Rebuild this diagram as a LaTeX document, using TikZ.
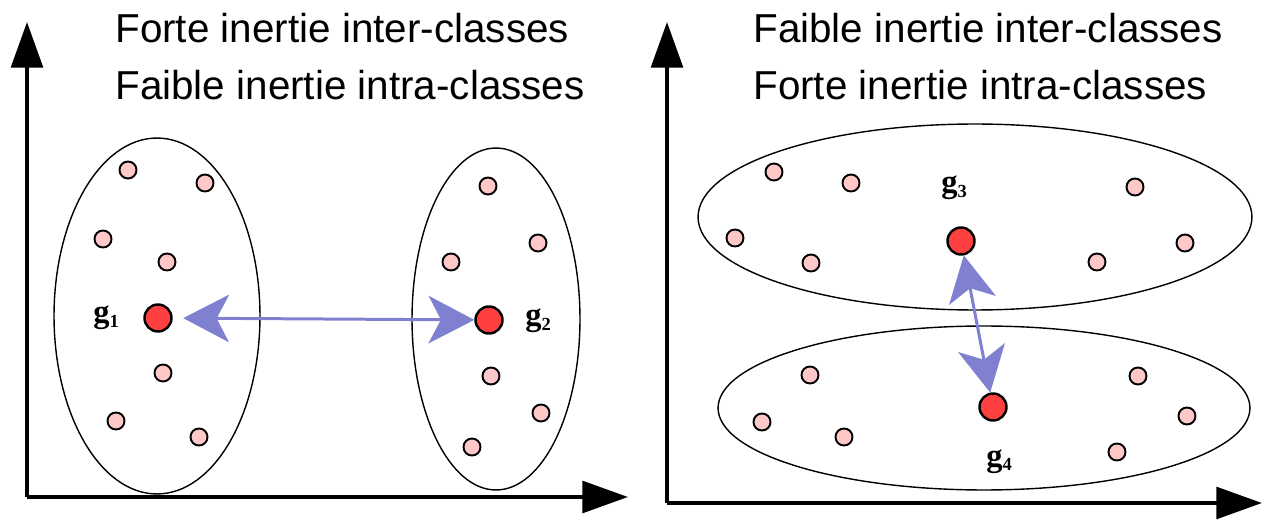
\documentclass[tikz,border=0pt]{standalone}
\usepackage{fontspec}
\setmainfont{Liberation Serif}
\setsansfont{Liberation Sans}
\usetikzlibrary{arrows.meta}
\definecolor{ptpink}{HTML}{FFC8C8}
\definecolor{ctrred}{HTML}{FF4040}
\definecolor{arrblue}{HTML}{8080D0}
\newcommand{\glab}[1]{\textbf{g\raisebox{-2.8pt}{\fontsize{10.5}{12}\selectfont #1}}}

\begin{document}
\begin{tikzpicture}[x=0.02cm, y=-0.02cm,
    pt/.style={circle, draw, line width=1.1pt, fill=ptpink, minimum size=0.34cm, inner sep=0pt},
    ctr/.style={circle, draw, line width=1.4pt, fill=ctrred, minimum size=0.54cm, inner sep=0pt},
    axis/.style={line width=2.3pt, -{Triangle[length=26pt, width=18pt]}},
    clu/.style={line width=0.8pt},
    dist/.style={arrblue, line width=1.7pt, {Stealth[length=26pt, width=27pt, inset=7pt]}-{Stealth[length=26pt, width=27pt, inset=7pt]}},
    title/.style={anchor=base west, font=\sffamily\fontsize{23}{26}\selectfont, inner sep=0pt},
    lab/.style={anchor=base west, font=\fontsize{18.5}{20}\selectfont, inner sep=0pt}]
    \useasboundingbox (0,0) rectangle (1265,520);

    % left: well separated classes
    \coordinate (o1) at (27,497);
    \coordinate (y1) at (27,22);
    \coordinate (x1) at (628,497);
    \draw[axis] (o1) -- (y1);
    \draw[axis] (o1) -- (x1);
    \node[title] (t1) at (115,43) {Forte inertie inter-classes};
    \node[title] (t2) at (115,100) {Faible inertie intra-classes};

    \draw[clu] (157,316) ellipse [x radius=2.06cm, y radius=3.56cm];
    \draw[clu] (496,319) ellipse [x radius=1.68cm, y radius=3.42cm];
    \foreach \x/\y [count=\i] in {128/170, 205/183, 103/239, 167/262, 163/373, 116/421, 199/437}
        \node[pt] (a\i) at (\x,\y) {};
    \foreach \x/\y [count=\i] in {488/186, 538/243, 451/262, 491/376, 541/413, 472/447}
        \node[pt] (b\i) at (\x,\y) {};
    \node[ctr] (g1) at (158,318) {};
    \node[ctr] (g2) at (489,320) {};
    \node[lab] (l1) at (93,323) {\glab{1}};
    \node[lab] (l2) at (525,326) {\glab{2}};
    \draw[dist, shorten <=6pt] (g1) -- (g2);

    % right: overlapping classes
    \coordinate (o2) at (667,503);
    \coordinate (y2) at (667,22);
    \coordinate (x2) at (1262,503);
    \draw[axis] (o2) -- (y2);
    \draw[axis] (o2) -- (x2);
    \node[title] (t3) at (753,43) {Faible inertie inter-classes};
    \node[title] (t4) at (753,100) {Forte inertie intra-classes};

    \draw[clu] (975,217) ellipse [x radius=5.54cm, y radius=1.86cm];
    \draw[clu] (984,408) ellipse [x radius=5.32cm, y radius=1.64cm];
    \foreach \x/\y [count=\i] in {774/172, 851/183, 1135/187, 735/238, 811/263, 1097/262, 1185/243}
        \node[pt] (c\i) at (\x,\y) {};
    \foreach \x/\y [count=\i] in {810/375, 1138/376, 762/422, 844/437, 1187/416, 1117/452}
        \node[pt] (d\i) at (\x,\y) {};
    \node[ctr] (g3) at (961,241) {};
    \node[ctr] (g4) at (993,407) {};
    \node[lab] (l3) at (941,193) {\glab{3}};
    \node[lab] (l4) at (986,466) {\glab{4}};
    \draw[dist] (g3) -- (g4);
\end{tikzpicture}
\end{document}
